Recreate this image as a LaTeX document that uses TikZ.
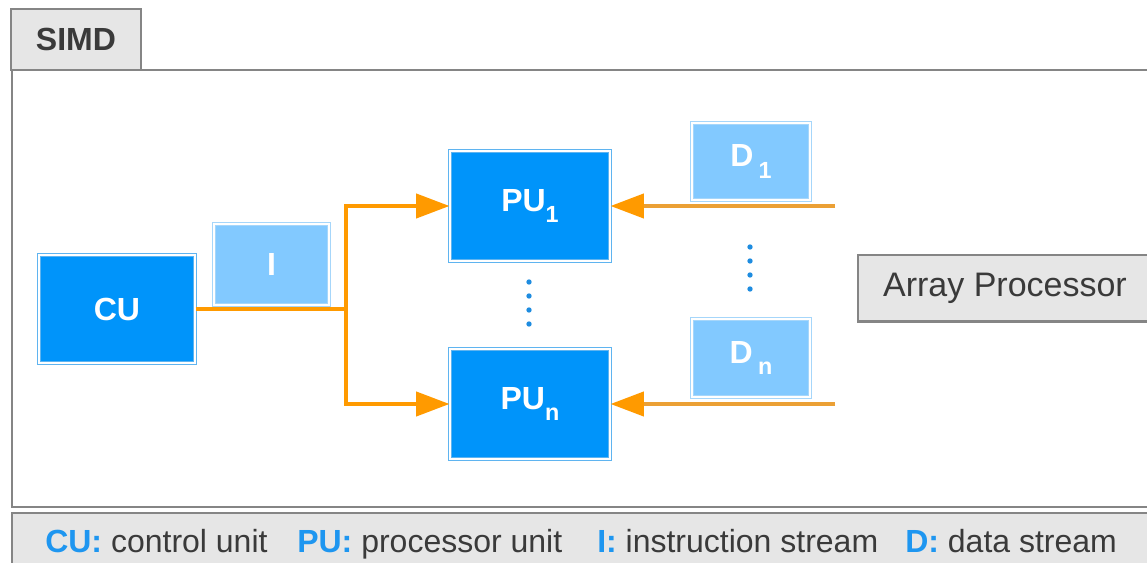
\documentclass[tikz,border=0pt]{standalone}
\usepackage{fontspec}
\setmainfont{Liberation Sans}
\usetikzlibrary{arrows.meta}
\definecolor{pblue}{HTML}{0094FA}
\definecolor{lblue}{HTML}{82C9FF}
\definecolor{eblue}{HTML}{5FB4F0}
\definecolor{leblue}{HTML}{A6D6FA}
\definecolor{aorange}{HTML}{FF9A00}
\definecolor{rline}{HTML}{EBA035}
\definecolor{frame}{HTML}{858585}
\definecolor{gfill}{HTML}{E6E6E6}
\definecolor{txt}{HTML}{3A3A3A}
\definecolor{legblue}{HTML}{1E96F0}
\definecolor{dotblue}{HTML}{1E8CE0}
\newcommand{\subtx}[1]{\raisebox{-0.36em}{\fontsize{17.5pt}{18pt}\selectfont #1}}
\tikzset{
  bigfont/.style={font=\fontsize{24pt}{28pt}\selectfont\bfseries},
  dbox/.style={fill=pblue, draw=eblue, line width=0.75pt, double=white, double distance=1.5pt,
    text=white, bigfont, inner sep=0pt},
  lbox/.style={fill=lblue, draw=leblue, line width=0.75pt, double=white, double distance=1.5pt,
    text=white, bigfont, inner sep=0pt},
  oline/.style={draw=aorange, line width=3pt},
  arr/.style={line width=3pt, -{Triangle[length=25pt, width=18pt, color=aorange]}},
  legtxt/.style={anchor=base west, inner sep=0pt, text=txt, font=\fontsize{24pt}{28pt}\selectfont},
}
\begin{document}
\begin{tikzpicture}[x=0.75pt, y=-0.75pt]
\clip (0,0) rectangle (1147,563);
\fill[white] (0,0) rectangle (1147,563);
% frame and tab
\node[draw=frame, fill=gfill, line width=1.5pt, minimum width=130*0.75pt, minimum height=61*0.75pt,
  inner sep=0pt, text=txt, font=\fontsize{24pt}{28pt}\selectfont\bfseries] (tab) at (76,39.5) {SIMD};
\draw[frame, line width=1.8pt] (12,70) rectangle (1165,507);
\fill[gfill] (12,513) rectangle (1165,580);
\draw[frame, line width=1.8pt] (12,513) rectangle (1165,580);
% boxes
\node[dbox, minimum width=156*0.75pt, minimum height=108*0.75pt] (cu) at (117,309) {CU};
\node[lbox, minimum width=115*0.75pt, minimum height=81*0.75pt] (i) at (271.5,264.5) {I};
\node[dbox, minimum width=160*0.75pt, minimum height=110*0.75pt] (pu1) at (530,206) {PU\subtx{1}};
\node[dbox, minimum width=160*0.75pt, minimum height=110*0.75pt] (pun) at (530,404) {PU\subtx{n}};
\node[lbox, minimum width=118*0.75pt, minimum height=77*0.75pt] (d1) at (751,161.5) {D\,\subtx{1}};
\node[lbox, minimum width=118*0.75pt, minimum height=78*0.75pt] (dn) at (751,358) {D\,\subtx{n}};
\node[draw=frame, fill=gfill, line width=1.5pt, minimum width=295*0.75pt, minimum height=66*0.75pt,
  inner sep=0pt, text=txt, font=\fontsize{25.5pt}{30pt}\selectfont] (ap) at (1005,288.5) {Array Processor};
% connectors
\coordinate (j) at (346,309);
\coordinate (r1) at (835,206);
\coordinate (rn) at (835,404);
\draw[oline] (cu.east) -- (j);
\draw[arr, aorange] (j) |- (pu1.west);
\draw[arr, aorange] (j) |- (pun.west);
\draw[arr, rline] (r1) -- (pu1.east);
\draw[arr, rline] (rn) -- (pun.east);
% dots
\foreach \yy in {282,296,310,324} \fill[dotblue] (529,\yy) circle[radius=2pt];
\foreach \yy in {247,261,275,289} \fill[dotblue] (750,\yy) circle[radius=2pt];
% legend
\node[legtxt] (l1) at (45,552) {\textcolor{legblue}{\bfseries CU:} control unit};
\node[legtxt] (l2) at (297,552) {\textcolor{legblue}{\bfseries PU:} processor unit};
\node[legtxt] (l3) at (597,552) {\textcolor{legblue}{\bfseries I:} instruction stream};
\node[legtxt] (l4) at (905,552) {\textcolor{legblue}{\bfseries D:} data stream};
\end{tikzpicture}
\end{document}
